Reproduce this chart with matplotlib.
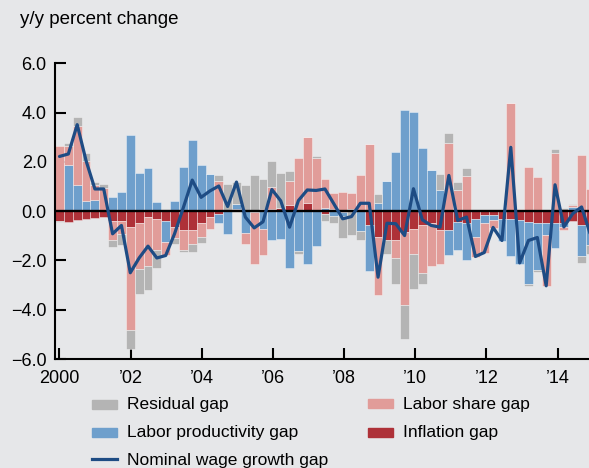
import matplotlib
matplotlib.use("Agg")
import matplotlib.pyplot as plt
import numpy as np
from matplotlib.patches import Rectangle
from matplotlib.lines import Line2D

plt.rcParams['font.family'] = ['Liberation Sans', 'DejaVu Sans']

# ---------------- data (quarterly, 2000Q1 .. 2015Q1) ----------------
quarters = [f"{y}Q{q}" for y in range(2000, 2016) for q in range(1, 5)][:61]

inflation = [-0.40, -0.43, -0.35, -0.32, -0.28, -0.24, -0.40, -0.40, -0.65, -0.47,
             -0.24, -0.31, -0.40, -0.65, -0.76, -0.76, -0.50, -0.22, -0.12, 0.00,
             0.07, 0.00, 0.00, 0.09, 0.09, 0.14, 0.23, 0.00, 0.32, 0.00,
             -0.10, 0.09, -0.04, 0.00, 0.00, -0.58, -1.05, -1.16, -1.16, -0.85,
             -0.72, -0.55, -0.50, -0.75, -0.75, -0.45, -0.47, -0.30, -0.15, -0.15,
             -0.30, -0.31, -0.35, -0.45, -0.49, -0.49, -0.49, -0.50, -0.38, -0.58,
             -0.65]
productivity = [0.00, 1.88, 1.07, 0.40, 0.46, 0.00, 0.57, 0.77, 3.10, 1.54,
                1.74, 0.36, -0.87, 0.40, 1.78, 2.87, 1.88, 1.51, -0.35, -0.92,
                0.22, -0.88, -0.05, -0.72, -1.16, -1.12, -2.30, -1.62, -2.14, -1.42,
                0.12, -0.18, -0.15, 0.09, -0.81, -1.85, 0.34, 1.24, 2.39, 4.12,
                4.01, 2.55, 1.65, 0.86, -1.02, -1.12, -1.53, -0.75, -0.35, -0.20,
                -0.90, -1.49, -1.81, -2.50, -1.88, -0.48, -1.00, -0.15, 0.16, -1.22,
                -0.74]
labor_share = [2.66, 0.78, 2.40, 1.65, 0.62, 0.95, -0.76, -0.51, -4.16, -1.89,
               -1.99, -1.28, -0.50, -0.43, -0.80, -0.57, -0.55, -0.50, 1.22, 0.00,
               0.00, -0.45, -2.10, -1.05, 0.90, 0.00, 1.01, 2.16, 2.68, 2.15,
               1.19, 0.64, 0.77, 0.64, 1.47, 2.73, -2.34, 0.00, -0.74, -2.97,
               -1.01, -1.96, -1.72, -1.41, 2.77, 0.84, 1.41, -0.80, -1.20, -0.33,
               0.00, 4.39, 0.09, 1.81, 1.38, -2.08, 2.36, -0.12, 0.07, 2.26,
               0.90]
residual = [-0.05, 0.11, 0.36, 0.31, 0.10, 0.16, -0.30, -0.47, -0.77, -1.01,
            -0.95, -0.70, 0.00, -0.24, -0.10, -0.31, -0.25, 0.00, 0.23, 1.10,
            0.89, 1.08, 1.47, 1.22, 1.05, 1.42, 0.40, -0.11, 0.00, 0.07,
            -0.30, -0.31, -0.88, -0.95, -0.35, 0.00, 0.34, -0.57, -1.04, -1.35,
            -1.42, -0.43, 0.00, 0.65, 0.41, 0.34, 0.34, 0.00, 0.00, 0.00,
            0.00, 0.00, 0.00, -0.09, -0.09, 0.00, 0.18, 0.12, 0.07, -0.31,
            -0.36]
nominal_wage = [2.22, 2.32, 3.51, 2.05, 0.90, 0.90, -0.92, -0.58, -2.50, -1.90,
                -1.42, -1.90, -1.80, -0.92, 0.15, 1.26, 0.56, 0.82, 1.02, 0.19,
                1.18, -0.24, -0.68, -0.43, 0.88, 0.42, -0.65, 0.43, 0.86, 0.84,
                0.90, 0.30, -0.31, -0.22, 0.32, 0.32, -2.68, -0.49, -0.51, -0.99,
                0.91, -0.35, -0.58, -0.65, 1.45, -0.38, -0.24, -1.84, -1.68, -0.66,
                -1.19, 2.59, -2.10, -1.19, -1.07, -3.03, 1.07, -0.64, -0.10, 0.17,
                -0.95]

tick_years = [2000, 2002, 2004, 2006, 2008, 2010, 2012, 2014]
tick_labels = ['2000', '\u201902', '\u201904', '\u201906', '\u201908',
               '\u201910', '\u201912', '\u201914']
y_ticks = [6, 4, 2, 0, -2, -4, -6]
y_tick_labels = ['6.0', '4.0', '2.0', '0.0', '\u22122.0', '\u22124.0', '\u22126.0']

# ---------------- style ----------------
BG = '#e6e7e9'
C_RES = '#b4b4b4'
C_PROD = '#6e9fcc'
C_SHARE = '#e19c99'
C_INFL = '#ae3138'
C_LINE = '#1e4c84'

W, H = 589, 468
fig = plt.figure(figsize=(W / 100, H / 100), dpi=100, facecolor=BG)
ax = fig.add_axes([55 / W, 109 / H, (W - 55) / W, (359 - 63.3) / H])
ax.set_facecolor(BG)

n = len(quarters)
step = 0.2487
x = 2000 + np.arange(n) * step

pos_base = np.zeros(n)
neg_base = np.zeros(n)
for vals, col in [(inflation, C_INFL), (productivity, C_PROD),
                  (labor_share, C_SHARE), (residual, C_RES)]:
    v = np.array(vals, dtype=float)
    base = np.where(v >= 0, pos_base, neg_base)
    ax.bar(x, v, width=step, bottom=base, color=col,
           edgecolor=(1, 1, 1, 0.45), linewidth=0.6, zorder=2)
    pos_base += np.clip(v, 0, None)
    neg_base += np.clip(v, None, 0)

ax.axhline(0, color='black', lw=1.7, zorder=3)
ax.plot(x, nominal_wage, color=C_LINE, lw=2.3, zorder=4,
        solid_joinstyle='round', solid_capstyle='round')

ax.set_xlim(2000 - 4.5 / 35.58, 2000 + (589 - 59.5) / 35.58)
ax.set_ylim(-6, 6)
ax.set_xticks(tick_years)
ax.set_xticklabels(tick_labels)
ax.set_yticks(y_ticks)
ax.set_yticklabels(y_tick_labels)
ax.tick_params(direction='in', length=8, width=1.5, labelsize=13,
               colors='black')
ax.tick_params(axis='x', pad=8)
ax.tick_params(axis='y', pad=6)
for s in ['top', 'right']:
    ax.spines[s].set_visible(False)
for s in ['left', 'bottom']:
    ax.spines[s].set_linewidth(1.5)
    ax.spines[s].set_color('black')


def fx(px):
    return px / W


def fy(py):
    return 1 - py / H


fig.text(fx(20), fy(20), 'y/y percent change', fontsize=13.5,
         ha='left', va='center')

# legend (manual, two columns)
legend_items = [
    ('patch', C_RES, 'Residual gap', 92, 404),
    ('patch', C_PROD, 'Labor productivity gap', 92, 432),
    ('line', C_LINE, 'Nominal wage growth gap', 92, 459),
    ('patch', C_SHARE, 'Labor share gap', 368, 403),
    ('patch', C_INFL, 'Inflation gap', 368, 432),
]
for kind, col, lab, px, py in legend_items:
    if kind == 'patch':
        fig.add_artist(Rectangle((fx(px), fy(py + 4.5)), 25 / W, 9 / H,
                                 transform=fig.transFigure, color=col))
    else:
        fig.add_artist(Line2D([fx(px), fx(px + 25)], [fy(py), fy(py)],
                              transform=fig.transFigure, color=col, lw=2.3))
    fig.text(fx(px + 35), fy(py + 1), lab, fontsize=12.5, ha='left',
             va='center')

fig.savefig('out.png', dpi=100, facecolor=BG)
